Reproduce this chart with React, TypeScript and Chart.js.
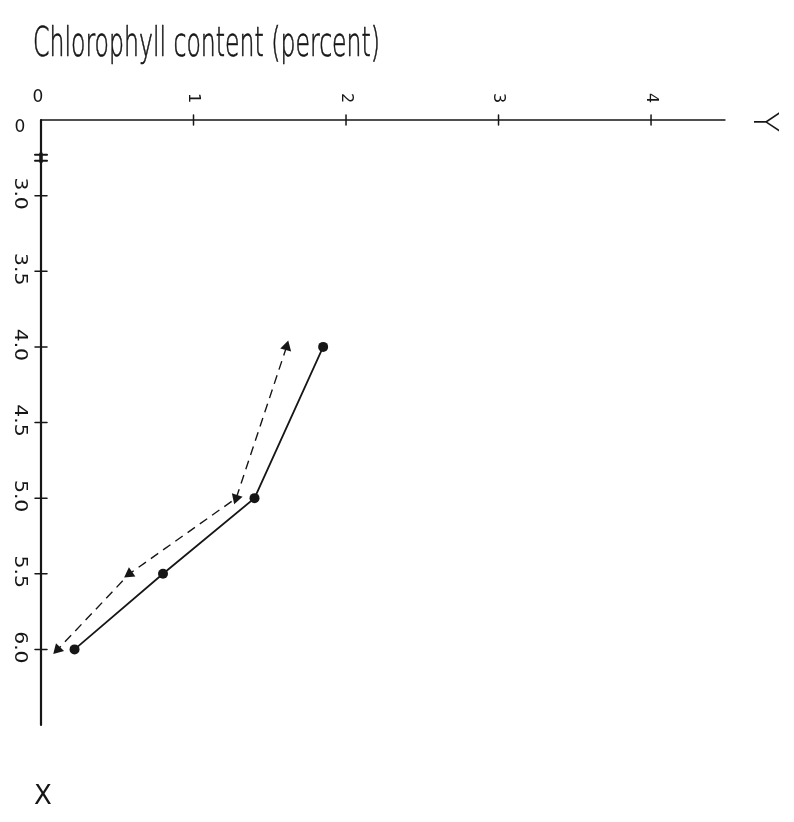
import React, { useEffect, useRef } from "react";
import { Chart, registerables } from "chart.js";

Chart.register(...registerables);

// ---- data ----
const depthLevels = [4.0, 5.0, 5.5, 6.0];
const solidValues = [1.85, 1.4, 0.8, 0.22];
const dashedValues = [1.61, 1.28, 0.58, 0.11];
const xTicks = [0, 1, 2, 3, 4];
const xTickLabels = ["0", "1", "2", "3", "4"];
const yTicks = [2.5, 3.0, 3.5, 4.0, 4.5, 5.0, 5.5, 6.0];
const yTickLabels = ["0", "3.0", "3.5", "4.0", "4.5", "5.0", "5.5", "6.0"];
const yBreakAt = 2.75;
const titleText = "Chlorophyll content (percent)";
const rightAxisName = "Y";
const bottomAxisName = "X";

const INK = "#161616";
const FONT = "'DejaVu Sans', 'Liberation Sans', sans-serif";

const handPlugin = {
  id: "handDrawn",
  beforeDatasetsDraw(chart: any) {
    const { ctx, chartArea: a, scales } = chart;
    const xs = scales.x;
    const ys = scales.y;
    ctx.save();
    ctx.strokeStyle = INK;
    ctx.lineCap = "round";
    const line = (x1: number, y1: number, x2: number, y2: number) => {
      ctx.beginPath();
      ctx.moveTo(x1, y1);
      ctx.lineTo(x2, y2);
      ctx.stroke();
    };
    // top axis
    ctx.lineWidth = 1.4;
    line(a.left, a.top, a.right, a.top);
    // left axis
    ctx.lineWidth = 2.2;
    line(a.left, a.top, a.left, a.bottom);
    // ticks
    ctx.lineWidth = 1.5;
    xTicks.forEach((v) => {
      if (v === 0) return;
      const px = xs.getPixelForValue(v);
      line(px, a.top - 5, px, a.top + 5);
    });
    yTicks.forEach((v, i) => {
      if (i === 0) return;
      const py = ys.getPixelForValue(v);
      line(a.left - 6, py, a.left + 6, py);
    });
    // break marker
    const pb = ys.getPixelForValue(yBreakAt);
    ctx.lineWidth = 2;
    line(a.left - 6, pb - 3, a.left + 6, pb - 3);
    line(a.left - 6, pb + 3, a.left + 6, pb + 3);
    ctx.lineWidth = 3.5;
    line(a.left, pb - 4, a.left, pb + 4);
    ctx.restore();
  },
  afterDraw(chart: any) {
    const { ctx, chartArea: a, scales } = chart;
    const xs = scales.x;
    const ys = scales.y;
    ctx.save();
    ctx.fillStyle = INK;
    ctx.strokeStyle = INK;

    // title
    ctx.font = `200 41px ${FONT}`;
    ctx.textBaseline = "alphabetic";
    ctx.textAlign = "left";
    const tw = ctx.measureText(titleText).width;
    ctx.save();
    ctx.translate(25, 48);
    ctx.scale(347 / tw, 1);
    ctx.lineWidth = 0.7;
    ctx.fillText(titleText, 0, 0);
    ctx.strokeText(titleText, 0, 0);
    ctx.restore();

    const rot = (t: string, x: number, y: number, size: number, sx: number, w = 400) => {
      ctx.save();
      ctx.translate(x, y);
      ctx.rotate(Math.PI / 2);
      ctx.scale(sx, 1);
      ctx.font = `${w} ${size}px ${FONT}`;
      ctx.textAlign = "center";
      ctx.textBaseline = "middle";
      ctx.fillText(t, 0, 0);
      ctx.restore();
    };
    const up = (t: string, x: number, y: number, size: number) => {
      ctx.font = `400 ${size}px ${FONT}`;
      ctx.textAlign = "center";
      ctx.textBaseline = "middle";
      ctx.fillText(t, x, y);
    };

    // top tick labels
    xTicks.forEach((v, i) => {
      const px = xs.getPixelForValue(v);
      if (xTickLabels[i] === "0") up(xTickLabels[i], px - 3, a.top - 22, 17);
      else rot(xTickLabels[i], px, a.top - 22, 16, 1);
    });
    // left tick labels
    yTicks.forEach((v, i) => {
      const py = ys.getPixelForValue(v);
      if (yTickLabels[i] === "0") up(yTickLabels[i], a.left - 21, py + 8, 17);
      else rot(yTickLabels[i], a.left - 22, py - 2, 17, 1.2);
    });

    // axis names
    rot(rightAxisName, a.right + 38, a.top + 2, 34, 1, 300);
    ctx.font = `400 26px ${FONT}`;
    ctx.textAlign = "center";
    ctx.textBaseline = "middle";
    ctx.fillText(bottomAxisName, a.left + 2, 789);

    ctx.restore();
  },
};

export default function App() {
  const ref = useRef<HTMLCanvasElement | null>(null);
  useEffect(() => {
    if (!ref.current) return;
    const chart = new Chart(ref.current, {
      type: "scatter",
      data: {
        datasets: [
          {
            label: "solid",
            data: depthLevels.map((d, i) => ({ x: solidValues[i], y: d })),
            showLine: true,
            borderColor: INK,
            backgroundColor: INK,
            borderWidth: 1.8,
            pointStyle: "circle",
            pointRadius: 5,
            pointBorderWidth: 0,
            clip: false,
          },
          {
            label: "dashed",
            data: depthLevels.map((d, i) => ({ x: dashedValues[i], y: d })),
            showLine: true,
            borderColor: INK,
            backgroundColor: INK,
            borderWidth: 1.4,
            borderDash: [9, 6],
            pointStyle: "triangle",
            pointRadius: 6.5,
            pointRotation: [15, 198, 235, 224],
            pointBorderWidth: 0,
            clip: false,
          },
        ],
      },
      options: {
        animation: false,
        responsive: true,
        maintainAspectRatio: false,
        layout: { padding: { left: 33, top: 112, right: 61, bottom: 89 } },
        plugins: {
          legend: { display: false },
          tooltip: { enabled: false },
          title: { display: false },
        },
        scales: {
          x: { type: "linear", position: "top", min: 0, max: 4.485, display: false },
          y: { type: "linear", reverse: true, min: 2.5, max: 6.5, display: false },
        },
      },
      plugins: [handPlugin],
    });
    return () => chart.destroy();
  }, []);
  return (
    <div style={{ position: "relative", width: 778, height: 806 }}>
      <canvas ref={ref} />
    </div>
  );
}
